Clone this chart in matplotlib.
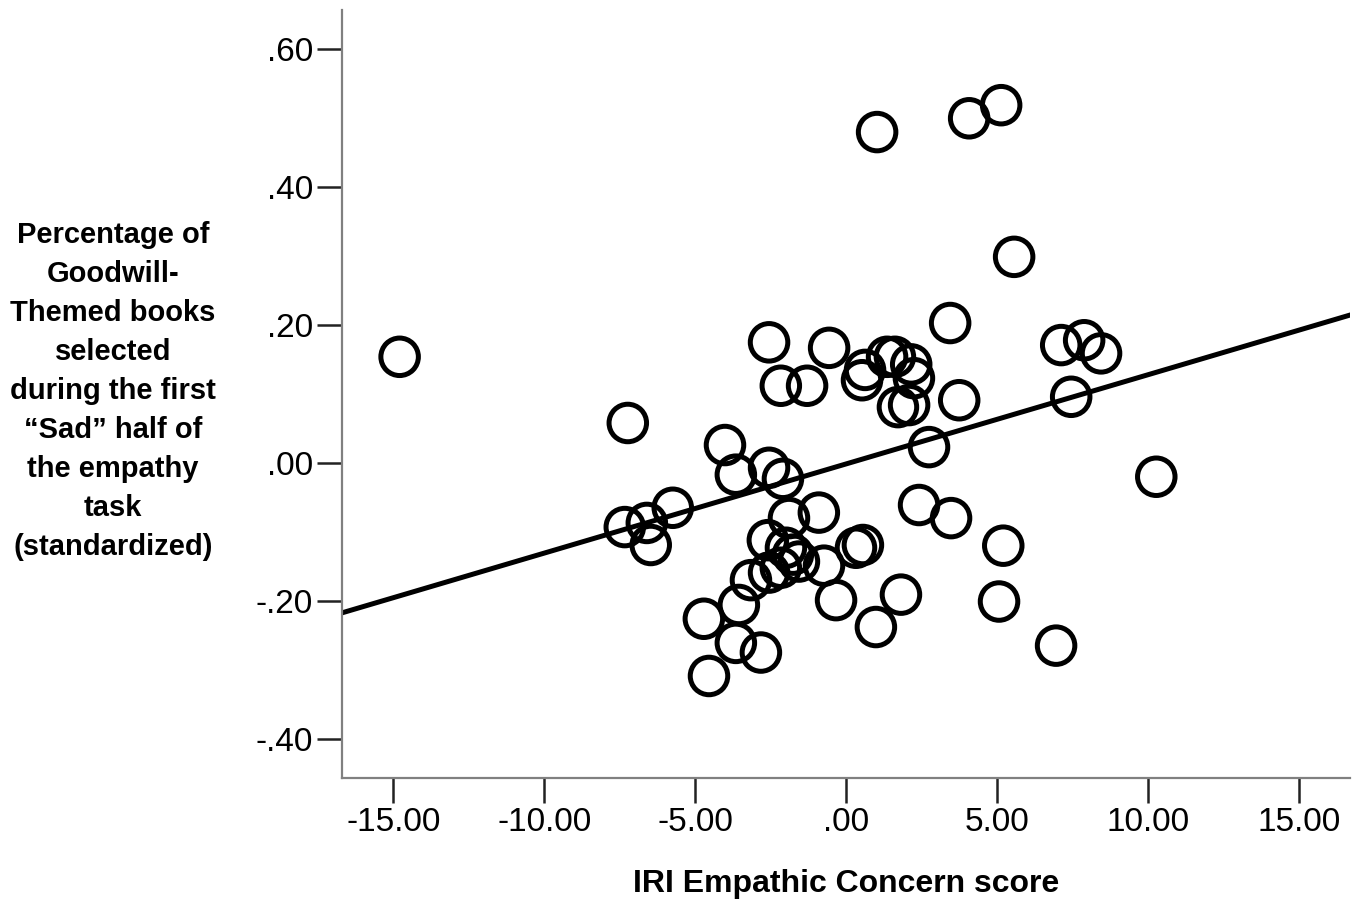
import numpy as np
import matplotlib.pyplot as plt
from matplotlib import font_manager

# IRI Empathic Concern score (centered) vs standardized goodwill-book share
iri_score = [-14.79, -7.23, 1.03, 4.08, 5.14, 5.57, 3.45, -2.55, -0.56, -2.16,
             -1.29, 0.53, 0.63, 1.36, 1.62, 2.16, 2.25, 1.72, 2.09, 2.75,
             3.75, 7.13, 7.89, 8.45, 7.46, 10.28, 2.42, 3.48, 5.21, 5.07,
             6.96, 1.82, 0.99, -0.33, 0.33, 0.56, -4.01, -3.65, -2.55, -2.09,
             -7.33, -6.60, -6.47, -5.74, -4.71, -3.55, -3.65, -2.82, -4.54, -1.89,
             -0.90, -2.59, -1.99, -1.76, -1.56, -0.73, -3.15, -2.55, -2.16]
goodwill_pct = [0.154, 0.058, 0.480, 0.500, 0.519, 0.299, 0.203, 0.175, 0.167, 0.112,
                0.112, 0.120, 0.135, 0.154, 0.154, 0.143, 0.123, 0.081, 0.084, 0.023,
                0.091, 0.171, 0.178, 0.159, 0.096, -0.020, -0.061, -0.080, -0.120, -0.201,
                -0.265, -0.191, -0.238, -0.199, -0.123, -0.119, 0.026, -0.017, -0.007, -0.023,
                -0.093, -0.087, -0.119, -0.065, -0.226, -0.206, -0.261, -0.275, -0.309, -0.080,
                -0.072, -0.112, -0.123, -0.133, -0.143, -0.149, -0.170, -0.159, -0.152]

x_ticks = [-15, -10, -5, 0, 5, 10, 15]
x_tick_labels = ['-15.00', '-10.00', '-5.00', '.00', '5.00', '10.00', '15.00']
y_ticks = [-0.4, -0.2, 0.0, 0.2, 0.4, 0.6]
y_tick_labels = ['-.40', '-.20', '.00', '.20', '.40', '.60']

names = {f.name for f in font_manager.fontManager.ttflist}
fam = ['Liberation Sans Narrow'] if 'Liberation Sans Narrow' in names else ['Liberation Sans']

x = np.array(iri_score)
y = np.array(goodwill_pct)
slope, intercept = np.polyfit(x, y, 1)

fig = plt.figure(figsize=(13.63, 9.14), dpi=100)
ax = fig.add_axes([0.2509, 0.1488, 0.7396, 0.8402])

ax.scatter(x, y, s=27**2, facecolors='none', edgecolors='black', linewidths=3.6, zorder=3)
xl = np.array([-16.7, 16.7])
ax.plot(xl, intercept + slope * xl, color='black', lw=3.6, zorder=2)

ax.set_xlim(-16.7, 16.7)
ax.set_ylim(-0.457, 0.657)
ax.set_xticks(x_ticks)
ax.set_xticklabels(x_tick_labels, family=fam, fontsize=24)
ax.set_yticks(y_ticks)
ax.set_yticklabels(y_tick_labels, family=fam, fontsize=24)
ax.tick_params(axis='both', length=18, width=1.8, color='#222222', pad=3)

for side in ['top', 'right']:
    ax.spines[side].set_visible(False)
for side in ['left', 'bottom']:
    ax.spines[side].set_color('#808080')
    ax.spines[side].set_linewidth(1.6)

ax.set_xlabel('IRI Empathic Concern score', family=fam, fontsize=23,
              fontweight='bold', labelpad=22)

fig.text(0.083, 0.572,
         'Percentage of\nGoodwill-\nThemed books\nselected\nduring the first\n'
         '\u201cSad\u201d half of\nthe empathy\ntask\n(standardized)',
         ha='center', va='center', family=fam, fontsize=21, fontweight='bold',
         linespacing=1.5)

fig.savefig('out.png', dpi=100)
